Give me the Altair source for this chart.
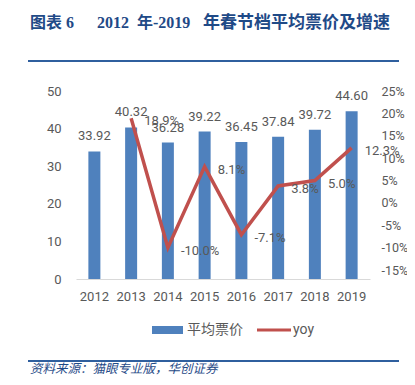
import altair as alt
import pandas as pd

years = ["2012", "2013", "2014", "2015", "2016", "2017", "2018", "2019"]
price = [33.92, 40.32, 36.28, 39.22, 36.45, 37.84, 39.72, 44.60]
yoy_years = ["2013", "2014", "2015", "2016", "2017", "2018", "2019"]
yoy = [0.189, -0.100, 0.081, -0.071, 0.038, 0.050, 0.123]
left_ticks = [0, 10, 20, 30, 40, 50]
right_ticks = [-0.15, -0.10, -0.05, 0.0, 0.05, 0.10, 0.15, 0.20, 0.25]

title_parts = ["图表 6", "2012", "年-2019", "年春节档平均票价及增速"]
source_text = "资料来源：猫眼专业版，华创证券"
legend_bar = "平均票价"
legend_line = "yoy"

BLUE = "#4F81BD"
RED = "#C0504D"
GRAY = "#595959"
NAVY = "#1F4A87"
FONT = "Roboto"
CJK = "Noto Sans CJK SC"
SERIF = f"Liberation Serif, {CJK}"

bars_df = pd.DataFrame({"year": years, "price": price})
bars_df["label"] = [f"{v:.2f}" for v in price]
line_df = pd.DataFrame({"year": yoy_years, "yoy": yoy})
line_df["label"] = [f"{v*100:.1f}%" for v in yoy]

x_axis = alt.Axis(title=None, labelAngle=0, ticks=False, labelPadding=11,
                  domainColor="#D9D9D9", labelColor=GRAY, labelFont=FONT,
                  labelFontSize=13, grid=False, labelOverlap=False)
x_scale = alt.Scale(paddingInner=0, paddingOuter=0)
left_axis = alt.Axis(title=None, values=left_ticks, ticks=False, domain=False,
                     grid=False, labelPadding=15, labelColor=GRAY, labelFont=FONT,
                     labelFontSize=13, labelOverlap=False, labelBound=False)
left_scale = alt.Scale(domain=[0, 50], nice=False)
right_axis = alt.Axis(title=None, orient="right", values=right_ticks,
                      labelExpr="round(datum.value * 100) + '%'",
                      ticks=False, domain=False, grid=False, labelPadding=11,
                      labelColor=GRAY, labelFont=FONT, labelFontSize=12.5,
                      labelOverlap=False, labelBound=False)
right_scale = alt.Scale(domain=[-0.17, 0.25], nice=False, zero=False)

def X():
    return alt.X("year:N", sort=years, scale=x_scale, axis=x_axis)

bars = alt.Chart(bars_df).mark_bar(size=12, color=BLUE).encode(
    x=X(), y=alt.Y("price:Q", scale=left_scale, axis=left_axis))
bar_labels = alt.Chart(bars_df).mark_text(dy=-15, color=GRAY, font=FONT, fontSize=13,
                                          baseline="middle").encode(
    x=X(), y=alt.Y("price:Q", scale=left_scale, axis=left_axis), text="label:N")
left = alt.layer(bars, bar_labels)

line = alt.Chart(line_df).mark_line(color=RED, strokeWidth=3.5).encode(
    x=X(), y=alt.Y("yoy:Q", scale=right_scale, axis=right_axis))
line_labels = alt.Chart(line_df).mark_text(dx=13, dy=3, align="left", baseline="middle",
                                           color=GRAY, font=FONT, fontSize=13).encode(
    x=X(), y=alt.Y("yoy:Q", scale=right_scale, axis=right_axis), text="label:N")
right = alt.layer(line, line_labels)

deco_df = pd.DataFrame({"k": [0]})
base = alt.Chart(deco_df)

def title_text(txt, xpos, size):
    return base.mark_text(align="left", baseline="middle", font=SERIF,
                          fontWeight="bold", fontSize=size, color=NAVY).encode(
        x=alt.value(xpos), y=alt.value(-68), text=alt.value(txt))

t1 = title_text(title_parts[0], -46, 16)
t2 = title_text(title_parts[1], 21, 16)
t3 = title_text(title_parts[2], 61, 16)
t4 = title_text(title_parts[3], 127, 17)

top_rule = base.mark_rule(color="#2F5F9E", strokeWidth=2).encode(
    x=alt.value(-48), x2=alt.value(323), y=alt.value(-30))
bottom_rule = base.mark_rule(color="#2F5F9E", strokeWidth=2).encode(
    x=alt.value(-48), x2=alt.value(323), y=alt.value(270))
source = base.mark_text(align="left", baseline="middle", font=CJK, fontSize=12.5,
                        fontStyle="italic", color=NAVY).encode(
    x=alt.value(-46), y=alt.value(278), text=alt.value(source_text))

leg_rect = base.mark_rect(color=BLUE).encode(
    x=alt.value(76), x2=alt.value(107), y=alt.value(235), y2=alt.value(243))
leg_rect_text = base.mark_text(align="left", baseline="middle", font=CJK, fontSize=14,
                               color=GRAY).encode(
    x=alt.value(111), y=alt.value(239), text=alt.value(legend_bar))
leg_line = base.mark_rule(color=RED, strokeWidth=3).encode(
    x=alt.value(181), x2=alt.value(215), y=alt.value(239))
leg_line_text = base.mark_text(align="left", baseline="middle", font=FONT, fontSize=14,
                               color=GRAY).encode(
    x=alt.value(217), y=alt.value(239), text=alt.value(legend_line))

deco = alt.layer(t1, t2, t3, t4, top_rule, bottom_rule, source, leg_rect, leg_rect_text,
                 leg_line, leg_line_text)

chart = alt.layer(left, right, deco).resolve_scale(y="independent").properties(
    width=294, height=188,
    padding={"left": 68, "top": 83, "right": 37, "bottom": 98},
    autosize=alt.AutoSizeParams(type="none"),
    background="white",
).configure_view(stroke=None).configure_axis(labelOverlap=False)

chart.save("out.html", embed_options={"renderer": "svg", "actions": False})
